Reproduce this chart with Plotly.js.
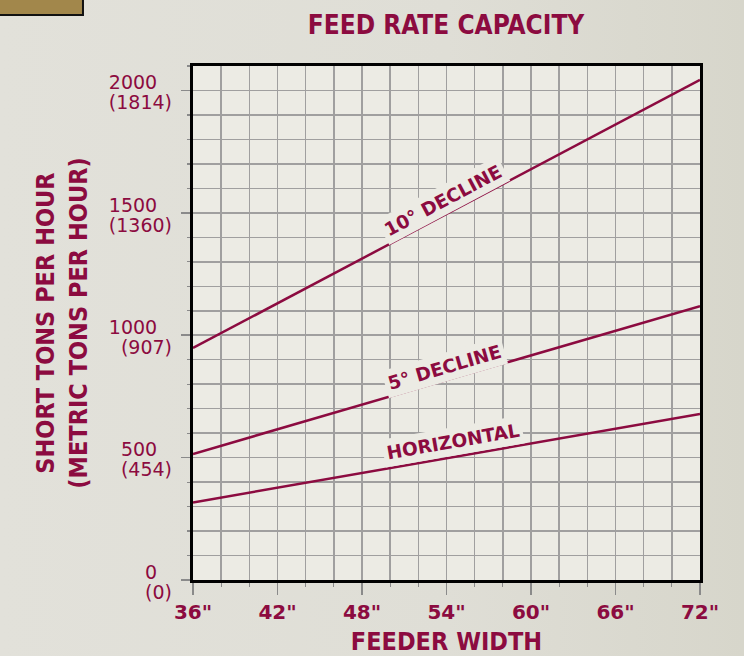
<!DOCTYPE html>
<html>
<head>
<meta charset="utf-8">
<script src="https://cdn.plot.ly/plotly-3.0.1.min.js"></script>
<style>
html,body{margin:0;padding:0;}
body{width:744px;height:656px;overflow:hidden;background:linear-gradient(90deg,#e2e1da 0%,#dfded6 60%,#d7d6cb 100%);}
#chart{width:744px;height:656px;}
</style>
</head>
<body>
<div id="chart"></div>
<script>
// Data
const feederWidth = [36, 72];
const horizontal = [317, 678];
const decline5 = [515, 1119];
const decline10 = [948, 2043];

const xTickVals = [36, 42, 48, 54, 60, 66, 72];
const xTickText = ['36"', '42"', '48"', '54"', '60"', '66"', '72"'];
const yTickVals = [0, 500, 1000, 1500, 2000];
const yTickShort = ['0', '500', '1000', '1500', '2000'];
const yTickMetric = ['(0)', '(454)', '(907)', '(1360)', '(1814)'];

const seriesLabels = ['HORIZONTAL', '5° DECLINE', '10° DECLINE'];

const maroon = '#8c0b40';
const lineStyle = {color: maroon, width: 2.5};

const traces = [
  {x: feederWidth, y: horizontal, mode: 'lines', line: lineStyle, name: seriesLabels[0], yaxis: 'y2', hoverinfo: 'x+y'},
  {x: feederWidth, y: decline5, mode: 'lines', line: lineStyle, name: seriesLabels[1], hoverinfo: 'x+y'},
  {x: feederWidth, y: decline10, mode: 'lines', line: lineStyle, name: seriesLabels[2], hoverinfo: 'x+y'}
];

const gridColor = '#a09f9f';
const tickFont = {family: 'DejaVu Sans', size: 19, color: maroon};
const narrow = '"DejaVu Sans Condensed", "Liberation Sans Narrow", "Liberation Sans", sans-serif';
const labelFont = {family: 'DejaVu Sans', size: 18.5, color: maroon, weight: 'bold'};

const layout = {
  width: 744, height: 656,
  margin: {l: 193, r: 44, t: 66, b: 76},
  paper_bgcolor: 'rgba(0,0,0,0)',
  plot_bgcolor: '#ecebe4',
  showlegend: false,
  title: {
    text: 'FEED RATE CAPACITY',
    font: {family: narrow, size: 26, color: maroon, weight: 'bold'},
    xref: 'container', yref: 'container', x: 446/744, y: 1 - 25/656,
    xanchor: 'center', yanchor: 'middle'
  },
  xaxis: {
    range: [36, 72],
    tickmode: 'array', tickvals: xTickVals, ticktext: xTickText,
    ticks: 'outside', ticklen: 12, tickwidth: 1.5, tickcolor: '#8a8a8a',
    tickfont: {family: 'DejaVu Sans', size: 20, color: maroon, weight: 'bold'},
    showgrid: true, gridcolor: gridColor, gridwidth: 1.5,
    minor: {dtick: 2, tick0: 36, showgrid: true, gridcolor: gridColor, gridwidth: 1.5, ticks: 'outside', ticklen: 4, tickcolor: '#8a8a8a', tickwidth: 1.2},
    showline: true, linecolor: '#000', linewidth: 3, mirror: true,
    zeroline: false, fixedrange: true,
    title: {text: 'FEEDER WIDTH', font: {family: narrow, size: 25, color: maroon, weight: 'bold'}, standoff: 32}
  },
  yaxis: {
    range: [0, 2100],
    tickmode: 'array', tickvals: yTickVals, ticktext: yTickShort,
    ticks: 'outside', ticklen: 9, tickwidth: 1.5, tickcolor: '#8a8a8a',
    tickfont: tickFont, ticklabelshift: -8, ticklabelstandoff: 20,
    showgrid: true, gridcolor: gridColor, gridwidth: 1.5,
    minor: {dtick: 100, tick0: 0, showgrid: true, gridcolor: gridColor, gridwidth: 1.5, ticks: 'outside', ticklen: 3, tickcolor: '#8a8a8a', tickwidth: 1.2},
    showline: true, linecolor: '#000', linewidth: 3, mirror: true,
    zeroline: false, fixedrange: true,
    title: {text: 'SHORT TONS PER HOUR<br>(METRIC TONS PER HOUR)', font: {family: narrow, size: 25, color: maroon, weight: 'bold'}, standoff: 15}
  },
  yaxis2: {
    overlaying: 'y', side: 'left', range: [0, 2100],
    tickmode: 'array', tickvals: yTickVals, ticktext: yTickMetric,
    ticks: '', tickfont: tickFont, ticklabelshift: 12, ticklabelstandoff: 20,
    showgrid: false, showline: false, zeroline: false, fixedrange: true
  },
  annotations: [
    {x: 53.76, y: 1552, xref: 'x', yref: 'y', text: seriesLabels[2], showarrow: false, textangle: -28,
     font: labelFont, bgcolor: '#ecebe4', borderpad: 3},
    {x: 53.83, y: 870, xref: 'x', yref: 'y', text: seriesLabels[1], showarrow: false, textangle: -16.3,
     font: labelFont, bgcolor: '#ecebe4', borderpad: 3},
    {x: 54.47, y: 564, xref: 'x', yref: 'y', text: seriesLabels[0], showarrow: false, textangle: -9.9,
     font: labelFont, bgcolor: '#ecebe4', borderpad: 3}
  ],
  shapes: [
    {type: 'rect', xref: 'paper', yref: 'paper', x0: -0.40, x1: -0.217, y0: 1.0992, y1: 1.14,
     fillcolor: '#a2874b', line: {color: '#111', width: 2}}
  ]
};

Plotly.newPlot('chart', traces, layout, {displayModeBar: false, staticPlot: true});
</script>
</body>
</html>
